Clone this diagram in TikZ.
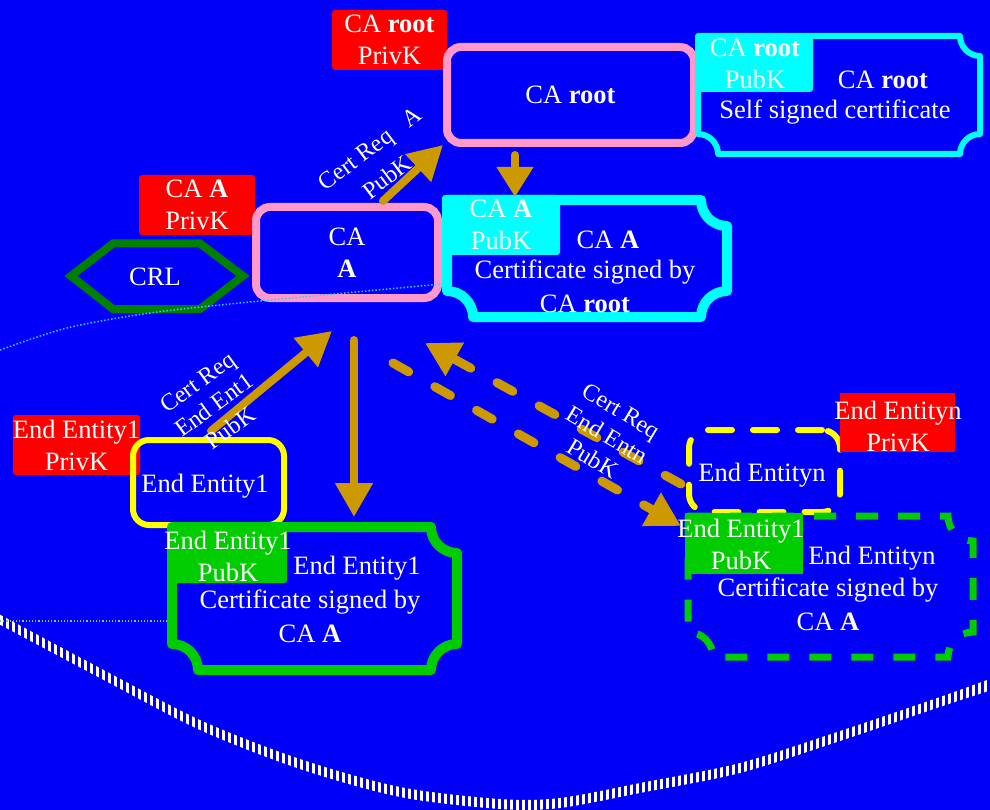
\documentclass[tikz,border=0pt]{standalone}
\usepackage{fontspec}
\setmainfont{Liberation Serif}
\usetikzlibrary{arrows.meta,calc}

\definecolor{bgblue}{RGB}{0,0,250}
\definecolor{keyred}{RGB}{255,0,0}
\definecolor{capink}{RGB}{255,153,204}
\definecolor{certcyan}{RGB}{0,255,255}
\definecolor{crlgreen}{RGB}{0,128,0}
\definecolor{eegreen}{RGB}{0,204,0}
\definecolor{eeyellow}{RGB}{255,255,0}
\definecolor{reqgold}{RGB}{204,153,0}
\definecolor{dotcyan}{RGB}{51,204,255}
\definecolor{dotgreen}{RGB}{102,220,102}

% certificate outline: square top-left corner, concave quarter-circle
% notches at the other corners (#2 = notch radius, #3 = 0.552 * radius)
\newcommand\ticket[3]{(#1.north west) -- ([xshift=-#2]#1.north east)
  .. controls ([shift={(-#2,-#3)}]#1.north east) and ([shift={(-#3,-#2)}]#1.north east)
  .. ([yshift=-#2]#1.north east) -- ([yshift=#2]#1.south east)
  .. controls ([shift={(-#3,#2)}]#1.south east) and ([shift={(-#2,#3)}]#1.south east)
  .. ([xshift=-#2]#1.south east) -- ([xshift=#2]#1.south west)
  .. controls ([shift={(#2,#3)}]#1.south west) and ([shift={(#3,#2)}]#1.south west)
  .. ([yshift=#2]#1.south west) -- cycle}

\begin{document}
\begin{tikzpicture}[x=1pt,y=-1pt,
  every node/.style={text=white, font=\fontsize{26.5}{32}\selectfont,
    align=center, inner sep=0pt, outer sep=0pt},
  keybox/.style={fill=keyred, rounded corners=3pt, minimum height=60pt},
  holder/.style={draw=capink, line width=8pt, rounded corners=14pt},
  certarea/.style={rectangle, minimum width=10pt},
  tabbox/.style={rounded corners=3pt},
  lbl/.style={font=\fontsize{24}{28}\selectfont},
  req/.style={draw=reqgold, line width=8pt, line cap=round,
    -{Triangle[length=34pt,width=36pt]}},
  reqdash/.style={req, line width=9pt, dash pattern=on 18pt off 30pt}]

\fill[bgblue] (0,0) rectangle (990,810);
\useasboundingbox (0,0) rectangle (990,810);

% striped lower boundary
\begin{scope}
  \clip plot[smooth] coordinates {(-5,612)(100,668)(200,720)(300,759)(400,787)(500,799)(560,798)(640,783)(740,763)(840,731)(940,697)(995,677)}
    -- plot[smooth] coordinates {(995,689)(940,707)(840,741)(740,773)(640,793)(560,808)(500,809)(400,797)(300,769)(200,730)(100,678)(-5,622)} -- cycle;
  \foreach \sx in {1,7,...,991} \draw[white,line width=3pt] (\sx,600) -- (\sx,812);
\end{scope}

% ---------- CA root ----------
\node[keybox, minimum width=115pt] (rootpriv) at (389.5,40) {CA \textbf{root}\\PrivK};
\node[holder, minimum width=247pt, minimum height=96pt] (root) at (570.5,95) {CA \textbf{root}};

% ---------- CA A ----------
\node[keybox, minimum width=116pt] (apriv) at (197,205) {CA \textbf{A}\\PrivK};
\node[holder, minimum width=182pt, minimum height=91pt] (caA) at (347,252.5) {CA\\\textbf{A}};

% ---------- CRL ----------
\draw[crlgreen, line width=8pt, line join=miter]
  (71,276) -- (113,243.5) -- (200,243.5) -- (243,276) -- (200,309) -- (113,309) -- cycle;
\node (crl) at (155,277) {CRL};

% guide lines
\draw[dotcyan, line width=1.5pt, dotted] plot[smooth] coordinates {(0,350)(67,328)(150,313)(250,302)(442,284)};
\draw[dotgreen, line width=1.2pt, dotted] (0,621) -- (168,621);

% ---------- CA root certificate ----------
\node[certarea, minimum width=282pt, minimum height=118pt] (rootcert) at (839,95) {};
\draw[certcyan, line width=6pt, line join=round] \ticket{rootcert}{20pt}{11pt};
\node[tabbox, fill=certcyan, minimum width=116pt, minimum height=57pt] (roottab) at (755,63.5) {CA \textbf{root}\\PubK};
\node (rootcertA) at (883,80) {CA \textbf{root}};
\node (rootcertB) at (835,112) {Self signed certificate};

% ---------- CA A certificate ----------
\node[certarea, minimum width=280pt, minimum height=117pt] (caAcert) at (587,258.5) {};
\draw[certcyan, line width=10pt, line join=round] \ticket{caAcert}{26pt}{14.4pt};
\node[tabbox, fill=certcyan, minimum width=118pt, minimum height=60pt] (caAtab) at (501,225) {CA \textbf{A}\\PubK};
\node (caAcertA) at (608,240) {CA \textbf{A}};
\node (caAcertB) at (585,272) {Certificate signed by};
\node (caAcertC) at (585,304) {CA \textbf{root}};

% ---------- End Entity 1 ----------
\node[keybox, minimum width=117pt] (ee1priv) at (76.5,445) {End Entity1\\PrivK};
\node[draw=eeyellow, line width=6pt, rounded corners=16pt, minimum width=151pt, minimum height=85pt] (ee1) at (208.5,482.5) {};
\node (ee1txt) at (205,486) {End Entity1};

\node[certarea, minimum width=285pt, minimum height=143pt] (ee1cert) at (314.5,598.5) {};
\draw[eegreen, line width=10pt, line join=round] \ticket{ee1cert}{26pt}{14.4pt};
\node[tabbox, fill=eegreen, minimum width=117pt, minimum height=60pt] (ee1tab) at (228.5,553) {};
\node (ee1tabtxt) at (228,556.5) {End Entity1\\PubK};
\node (ee1certA) at (357,568) {End Entity1};
\node (ee1certB) at (310,602) {Certificate signed by};
\node (ee1certC) at (310,634) {CA \textbf{A}};

% ---------- End Entity n ----------
\node[draw=eeyellow, line width=6pt, line cap=round, dash pattern=on 24pt off 21pt,
  rounded corners=18pt, minimum width=151pt, minimum height=82pt] (een) at (764.5,471) {};
\node (eentxt) at (762,475) {End Entityn};
\node[fill=keyred, minimum width=115pt, minimum height=59pt] (eenpriv) at (897.5,422.5) {};
\node (eenprivtxt) at (898,426) {End Entityn\\PrivK};

\node[certarea, minimum width=285pt, minimum height=141pt] (eencert) at (830.5,586.5) {};
\draw[eegreen, line width=7pt, dash pattern=on 22pt off 20pt] \ticket{eencert}{25pt}{13.8pt};
\node[fill=eegreen, minimum width=118pt, minimum height=61pt] (eentab) at (744,543.5) {};
\node (eentabtxt) at (741,544) {End Entity1\\PubK};
\node (eencertA) at (872,558) {End Entityn};
\node (eencertB) at (828,590) {Certificate signed by};
\node (eencertC) at (828,622) {CA \textbf{A}};

% ---------- requests and issued certificates ----------
\draw[req] ([xshift=36pt,yshift=6pt]caA.north) -- ([shift={(-4pt,-2pt)}]root.south west);
\coordinate (rootdrop) at ([shift={(-55.5pt,-12pt)}]root.south);
\draw[req, -{Triangle[length=30pt,width=35pt]}, shorten >=3pt] (rootdrop) -- (rootdrop |- caAcert.north);

\coordinate (adrop) at ([shift={(7pt,-42pt)}]caA.south);
\draw[req, shorten >=10pt] (adrop) -- (adrop |- ee1cert.north);
\draw[req] ([shift={(2.5pt,9pt)}]ee1.north) -- ([shift={(-15pt,-33pt)}]caA.south);

\draw[reqdash] ([shift={(-8pt,-13pt)}]een.west) -- ([shift={(-13pt,-45pt)}]caA.south east);
\draw[reqdash] ([shift={(46pt,-65pt)}]caA.south) -- ([shift={(-7pt,-10pt)}]eencert.north west);

% request labels
\node[lbl, rotate=37] (reqAa) at (357,161) {Cert Req};
\node[lbl, rotate=37] (reqAb) at (412,117) {A};
\node[lbl, rotate=37] (reqAc) at (387,177) {PubK};
\node[lbl, rotate=36] (req1) at (214,405) {Cert Req\\End Ent1\\PubK};
\node[lbl, rotate=-31] (reqn) at (607,435) {Cert Req\\End Entn\\PubK};

\end{tikzpicture}
\end{document}
